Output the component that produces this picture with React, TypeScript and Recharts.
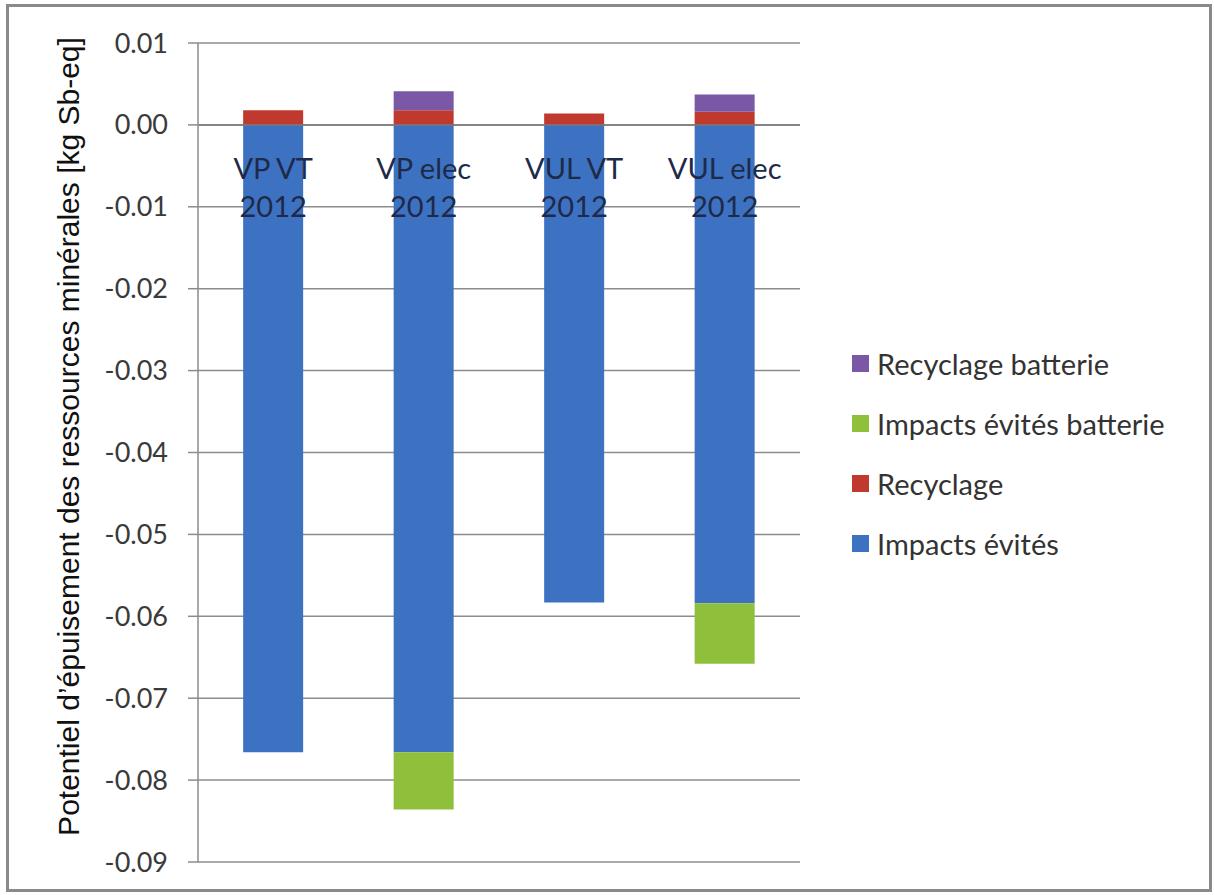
import React from 'react';
import { BarChart, Bar, XAxis, YAxis, CartesianGrid, Legend, LabelList, ReferenceLine } from 'recharts';

const categories = ['VP VT 2012', 'VP elec 2012', 'VUL VT 2012', 'VUL elec 2012'];
const impactsEvites = [-0.0766, -0.0766, -0.0583, -0.0584];
const recyclage = [0.0018, 0.0018, 0.0014, 0.0016];
const impactsEvitesBatterie = [0, -0.007, 0, -0.0074];
const recyclageBatterie = [0, 0.0023, 0, 0.0021];
const yTicks = [0.01, 0, -0.01, -0.02, -0.03, -0.04, -0.05, -0.06, -0.07, -0.08, -0.09];

const seriesKeys = ['impactsEvites', 'recyclage', 'impactsEvitesBatterie', 'recyclageBatterie'];
const seriesNames = ['Impacts évités', 'Recyclage', 'Impacts évités batterie', 'Recyclage batterie'];
const seriesColors = ['#3d72c2', '#c0392f', '#8fc03c', '#7a58a6'];
const legendOrder = [3, 2, 1, 0];

const data = categories.map((name, i) => ({
  name,
  impactsEvites: impactsEvites[i],
  recyclage: recyclage[i],
  impactsEvitesBatterie: impactsEvitesBatterie[i],
  recyclageBatterie: recyclageBatterie[i],
}));

const LABEL_FONT = 'Lato, "Open Sans", sans-serif';

const CategoryLabel = (props: any) => {
  const vb = props.viewBox && props.viewBox.width !== undefined ? props.viewBox : props;
  const x = Number(vb.x);
  const y = Number(vb.y);
  const w = Number(vb.width);
  const h = Number(vb.height);
  const top = Math.min(y, y + h);
  const value = String(props.value ?? '');
  const idx = value.lastIndexOf(' ');
  const l1 = value.slice(0, idx);
  const l2 = value.slice(idx + 1);
  const cx = x + w / 2;
  return (
    <g>
      <text x={cx} y={top + 43} textAnchor="middle" dominantBaseline="central" fontFamily={LABEL_FONT} fontSize={29} fill="#1e2a48">{l1}</text>
      <text x={cx} y={top + 81} textAnchor="middle" dominantBaseline="central" fontFamily={LABEL_FONT} fontSize={29} fill="#1e2a48">{l2}</text>
    </g>
  );
};

const renderLegend = () => (
  <div style={{ fontFamily: LABEL_FONT, fontSize: 29, color: '#333' }}>
    {legendOrder.map((i) => (
      <div key={seriesKeys[i]} style={{ display: 'flex', alignItems: 'center', height: 60, whiteSpace: 'nowrap' }}>
        <span style={{ display: 'inline-block', width: 17, height: 17, background: seriesColors[i], marginRight: 8 }} />
        <span>{seriesNames[i]}</span>
      </div>
    ))}
  </div>
);

const YTitle = (props: any) => {
  const vb = props.viewBox || { x: 0, y: 0, width: 0, height: 0 };
  const cx = 68;
  const cy = vb.y + vb.height / 2 - 16;
  return (
    <text
      x={cx}
      y={cy}
      textAnchor="middle"
      dominantBaseline="central"
      transform={`rotate(-90, ${cx}, ${cy})`}
      fontFamily='"Liberation Sans", Arial, sans-serif'
      fontSize={30}
      fill="#111"
    >
      Potentiel d’épuisement des ressources minérales [kg Sb-eq]
    </text>
  );
};

export default function App() {
  return (
    <div style={{ position: 'absolute', left: 0, top: 0, width: 1214, height: 895, background: '#fff' }}>
      <div
        style={{
          position: 'absolute',
          left: 6,
          top: 4,
          width: 1206,
          height: 888,
          border: '3px solid #8a8a8a',
          boxSizing: 'border-box',
        }}
      />
      <div style={{ position: 'absolute', left: 0, top: 0 }}>
        <BarChart
          width={1214}
          height={895}
          data={data}
          stackOffset="sign"
          margin={{ top: 43, right: 414, bottom: 33, left: 0 }}
          barCategoryGap="30%"
        >
          <CartesianGrid vertical={false} stroke="#8c8c8c" strokeWidth={1.5} />
          <XAxis dataKey="name" hide />
          <YAxis
            width={198}
            domain={[-0.09, 0.01]}
            ticks={yTicks}
            interval={0}
            tickFormatter={(v: number) => (Math.abs(v) < 1e-9 ? '0.00' : v.toFixed(2))}
            tickSize={10}
            tickMargin={20}
            axisLine={{ stroke: '#8c8c8c', strokeWidth: 1.5 }}
            tickLine={{ stroke: '#8c8c8c', strokeWidth: 1.5 }}
            tick={{ fontFamily: LABEL_FONT, fontSize: 27, fill: '#3a3a3a' }}
            label={{ content: YTitle }}
          />
          <ReferenceLine y={0} stroke="#7a7a7a" strokeWidth={1.5} />
          {seriesKeys.map((k, i) => (
            <Bar key={k} dataKey={k} name={seriesNames[i]} stackId="a" fill={seriesColors[i]} isAnimationActive={false}>
              {i === 0 ? <LabelList dataKey="name" content={CategoryLabel} /> : null}
            </Bar>
          ))}
          <Legend
            layout="vertical"
            align="center"
            verticalAlign="middle"
            content={renderLegend}
            wrapperStyle={{ left: 852, top: 333, width: 360 }}
          />
        </BarChart>
      </div>
    </div>
  );
}
